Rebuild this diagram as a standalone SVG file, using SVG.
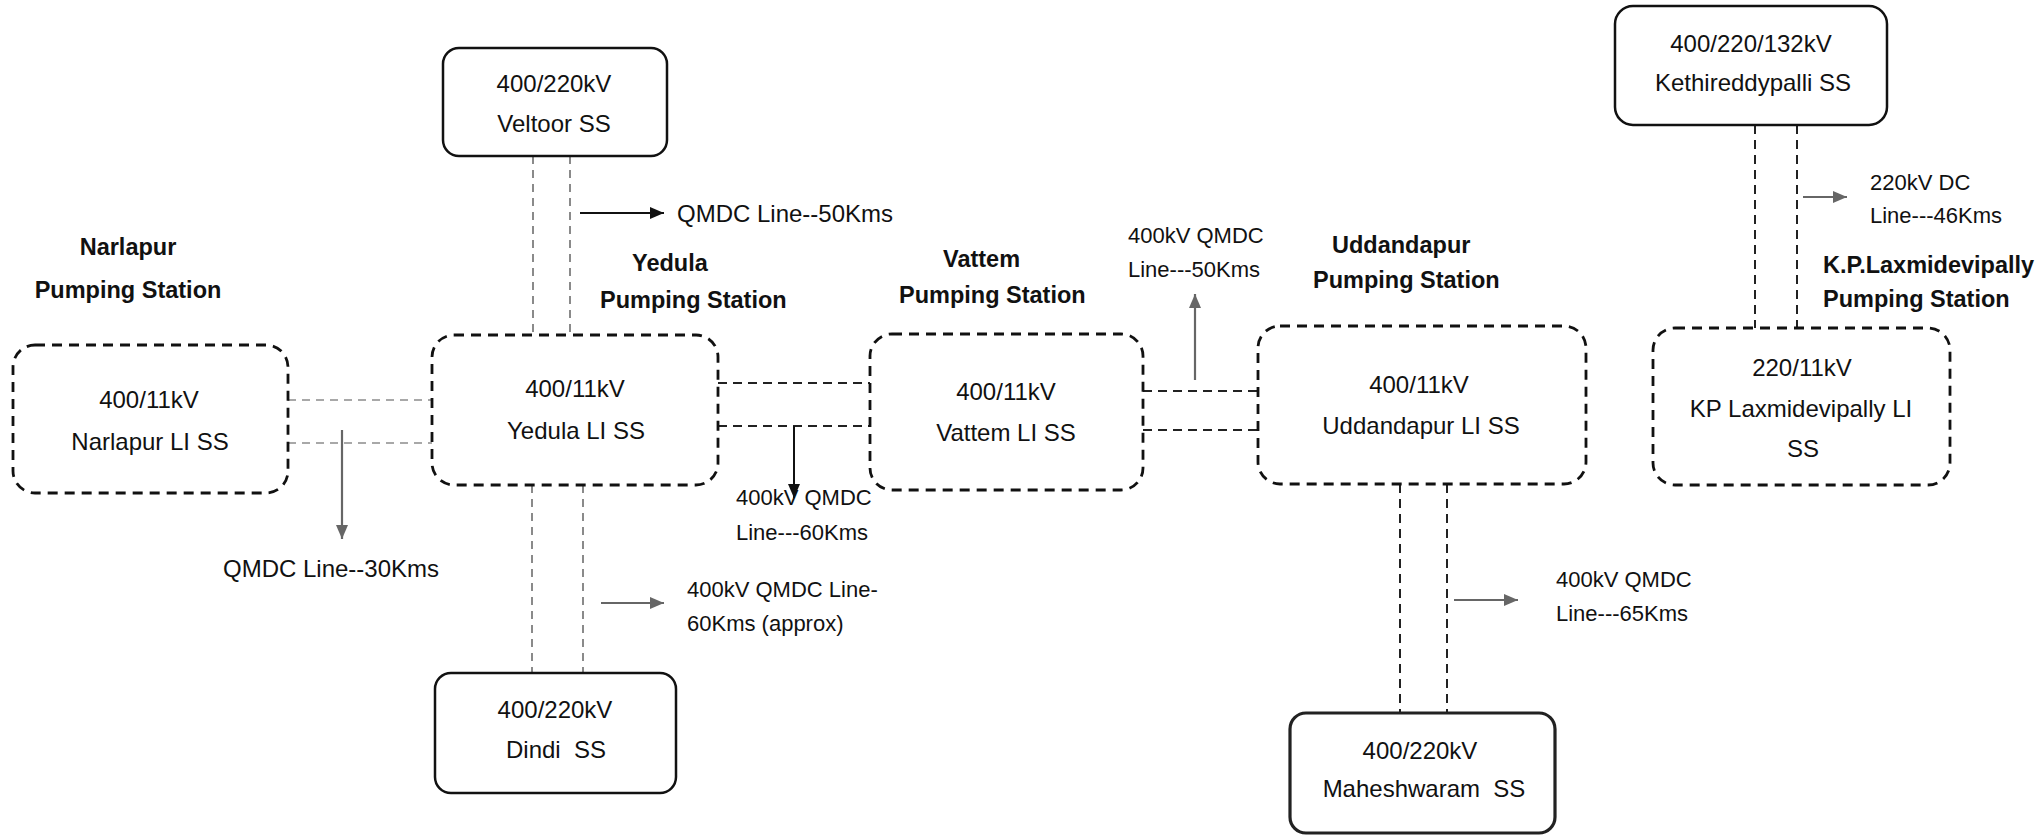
<svg xmlns="http://www.w3.org/2000/svg" width="2041" height="835" viewBox="0 0 2041 835">
<style>
.solid{fill:none;stroke:#111;stroke-width:2.5}
.thick{fill:none;stroke:#222;stroke-width:3.2}
.dbox{fill:none;stroke:#111;stroke-width:2.8;stroke-dasharray:10 7}
.cg{fill:none;stroke:#8a8a8a;stroke-width:2;stroke-dasharray:8 6}
.cl{fill:none;stroke:#a8a8a8;stroke-width:2;stroke-dasharray:8 6}
.cd{fill:none;stroke:#222;stroke-width:2;stroke-dasharray:9 6}
.ab{fill:none;stroke:#111;stroke-width:2}
.ag{fill:none;stroke:#666;stroke-width:2.2}
text{font-family:"Liberation Sans",Arial,sans-serif;fill:#111}
.n{font-size:24px;text-anchor:middle;white-space:pre}
.b{font-size:23.5px;font-weight:bold}
.bc{font-size:23.5px;font-weight:bold;text-anchor:middle}
.e{font-size:22px}
.e2{font-size:24px}
</style>
<defs>
<marker id="hb" markerUnits="userSpaceOnUse" markerWidth="16" markerHeight="14" refX="14" refY="7" orient="auto"><path d="M0,1 L14,7 L0,13 Z" fill="#111"/></marker>
<marker id="hg" markerUnits="userSpaceOnUse" markerWidth="16" markerHeight="14" refX="14" refY="7" orient="auto"><path d="M0,1 L14,7 L0,13 Z" fill="#666"/></marker>
</defs>
<rect width="2041" height="835" fill="#fff"/>

<g id="connectors">
<path class="cg" d="M533,156 V335 M570,156 V335"/>
<path class="cg" d="M532,485 V673 M583,485 V673"/>
<path class="cl" d="M288,400 H432 M288,443 H432"/>
<path class="cd" d="M718,383 H870 M718,426 H870"/>
<path class="cd" d="M1143,391 H1258 M1143,430 H1258"/>
<path class="cd" d="M1400,484 V713 M1447,484 V713"/>
<path class="cd" d="M1755,125 V328 M1797,125 V328"/>
<line class="ab" x1="580" y1="213" x2="664" y2="213" marker-end="url(#hb)"/>
<line class="ag" x1="342" y1="430" x2="342" y2="539" marker-end="url(#hg)"/>
<line class="ab" x1="794" y1="426" x2="794" y2="498" marker-end="url(#hb)"/>
<line class="ag" x1="601" y1="603" x2="664" y2="603" marker-end="url(#hg)"/>
<line class="ag" x1="1195" y1="380" x2="1195" y2="294" marker-end="url(#hg)"/>
<line class="ag" x1="1454" y1="600" x2="1518" y2="600" marker-end="url(#hg)"/>
<line class="ag" x1="1803" y1="197" x2="1847" y2="197" marker-end="url(#hg)"/>
</g>

<g id="labels">
<text class="e2" x="677" y="222">QMDC Line--50Kms</text>
<text class="e2" x="223" y="577">QMDC Line--30Kms</text>
<text class="e" x="736" y="505">400kV QMDC</text>
<text class="e" x="736" y="540">Line---60Kms</text>
<text class="e" x="687" y="597">400kV QMDC Line-</text>
<text class="e" x="687" y="631">60Kms (approx)</text>
<text class="e" x="1128" y="243">400kV QMDC</text>
<text class="e" x="1128" y="277">Line---50Kms</text>
<text class="e" x="1556" y="587">400kV QMDC</text>
<text class="e" x="1556" y="621">Line---65Kms</text>
<text class="e" x="1870" y="190">220kV DC</text>
<text class="e" x="1870" y="223">Line---46Kms</text>
</g>

<g id="stations">
<text class="bc" x="128" y="255">Narlapur</text>
<text class="bc" x="128" y="298">Pumping Station</text>
<text class="b" x="632" y="271">Yedula</text>
<text class="b" x="600" y="308">Pumping Station</text>
<text class="b" x="943" y="267">Vattem</text>
<text class="b" x="899" y="303">Pumping Station</text>
<text class="b" x="1332" y="253">Uddandapur</text>
<text class="b" x="1313" y="288">Pumping Station</text>
<text class="b" x="1823" y="273">K.P.Laxmidevipally</text>
<text class="b" x="1823" y="307">Pumping Station</text>
</g>

<g id="veltoor">
<rect class="solid" x="443" y="48" width="224" height="108" rx="16"/>
<text class="n" x="554" y="92">400/220kV</text>
<text class="n" x="554" y="132">Veltoor SS</text>
</g>
<g id="kethireddypalli">
<rect class="solid" x="1615" y="6" width="272" height="119" rx="18"/>
<text class="n" x="1751" y="52">400/220/132kV</text>
<text class="n" x="1753" y="91">Kethireddypalli SS</text>
</g>
<g id="narlapur">
<rect class="dbox" x="13" y="345" width="275" height="148" rx="22"/>
<text class="n" x="149" y="408">400/11kV</text>
<text class="n" x="150" y="450">Narlapur LI SS</text>
</g>
<g id="yedula">
<rect class="dbox" x="432" y="335" width="286" height="150" rx="22"/>
<text class="n" x="575" y="397">400/11kV</text>
<text class="n" x="576" y="439">Yedula LI SS</text>
</g>
<g id="vattem">
<rect class="dbox" x="870" y="334" width="273" height="156" rx="22"/>
<text class="n" x="1006" y="400">400/11kV</text>
<text class="n" x="1006" y="441">Vattem LI SS</text>
</g>
<g id="uddandapur">
<rect class="dbox" x="1258" y="326" width="328" height="158" rx="22"/>
<text class="n" x="1419" y="393">400/11kV</text>
<text class="n" x="1421" y="434">Uddandapur LI SS</text>
</g>
<g id="kplaxmidevipally">
<rect class="dbox" x="1653" y="328" width="297" height="157" rx="22"/>
<text class="n" x="1802" y="376">220/11kV</text>
<text class="n" x="1801" y="417">KP Laxmidevipally LI</text>
<text class="n" x="1803" y="457">SS</text>
</g>
<g id="dindi">
<rect class="solid" x="435" y="673" width="241" height="120" rx="16"/>
<text class="n" x="555" y="718">400/220kV</text>
<text class="n" x="556" y="758">Dindi  SS</text>
</g>
<g id="maheshwaram">
<rect class="thick" x="1290" y="713" width="265" height="120" rx="16"/>
<text class="n" x="1420" y="759">400/220kV</text>
<text class="n" x="1424" y="797">Maheshwaram  SS</text>
</g>
</svg>
